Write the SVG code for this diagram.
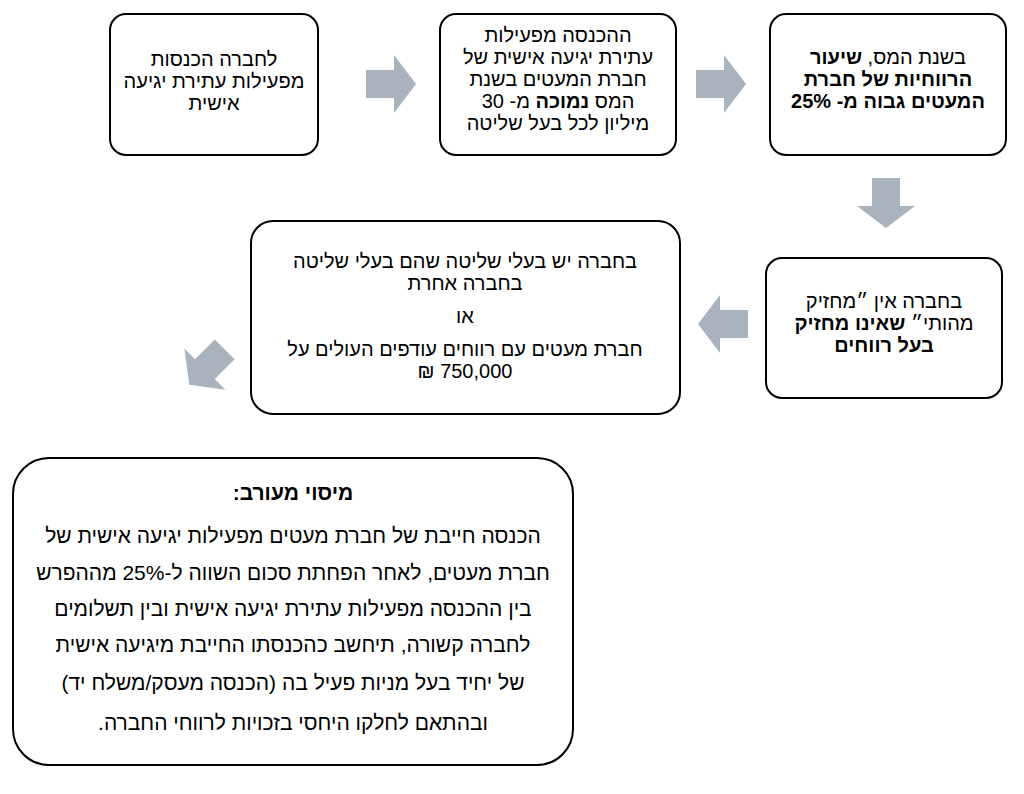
<svg xmlns="http://www.w3.org/2000/svg" width="1024" height="794" viewBox="0 0 1024 794">
<style>
.box{fill:#fff;stroke:#000;stroke-width:2}
text{font-family:"Liberation Sans","DejaVu Sans",sans-serif;font-size:20px;fill:#000;text-anchor:middle;direction:rtl}
.b{font-weight:bold}
.big{font-size:21px}
.arr{fill:#A9B3BD}
</style>
<defs><path id="ar" d="M-25,-14 H3 V-29 L25,0 L3,29 V14 H-25 Z"/></defs>
<rect width="1024" height="794" fill="#fff"/>
<g id="connectors">
<use href="#ar" class="arr" transform="translate(391,84)"/>
<use href="#ar" class="arr" transform="translate(721,84)"/>
<use href="#ar" class="arr" transform="translate(886,203) rotate(90)"/>
<use href="#ar" class="arr" transform="translate(723,324) rotate(180)"/>
<use href="#ar" class="arr" transform="translate(207,367) rotate(135)"/>
</g>
<g id="n1"><rect class="box" x="110" y="14" width="208" height="141" rx="16"/>
<text x="214" y="66">לחברה הכנסות</text><text x="214" y="88">מפעילות עתירת יגיעה</text><text x="214" y="110">אישית</text></g>
<g id="n2"><rect class="box" x="440" y="14" width="236" height="141" rx="16"/>
<text x="558" y="42">ההכנסה מפעילות</text><text x="558" y="64">עתירת יגיעה אישית של</text><text x="558" y="86">חברת המעטים בשנת</text><text x="558" y="108">המס <tspan class="b">נמוכה</tspan> מ- 30</text><text x="558" y="130">מיליון לכל בעל שליטה</text></g>
<g id="n3"><rect class="box" x="770" y="14" width="236" height="141" rx="16"/>
<text x="888" y="64">בשנת המס, <tspan class="b">שיעור</tspan></text><text x="888" y="86" class="b">הרווחיות של חברת</text><text x="888" y="108" class="b">המעטים גבוה מ- 25%</text></g>
<g id="n4"><rect class="box" x="766" y="258" width="236" height="140" rx="16"/>
<text x="884" y="308">בחברה אין ״מחזיק</text><text x="884" y="330">מהותי״ <tspan class="b">שאינו מחזיק</tspan></text><text x="884" y="352" class="b">בעל רווחים</text></g>
<g id="n5"><rect class="box" x="251" y="221" width="429" height="193" rx="22"/>
<text x="465" y="268">בחברה יש בעלי שליטה שהם בעלי שליטה</text><text x="465" y="290">בחברה אחרת</text><text x="465" y="323">או</text><text x="465" y="356">חברת מעטים עם רווחים עודפים העולים על</text><text x="465" y="378">750,000 ₪</text></g>
<g id="n6"><rect class="box" x="13" y="458" width="560" height="307" rx="36"/>
<text x="293" y="500" class="b big">מיסוי מעורב:</text>
<text x="293" y="543" class="big">הכנסה חייבת של חברת מעטים מפעילות יגיעה אישית של</text>
<text x="293" y="580" class="big">חברת מעטים, לאחר הפחתת סכום השווה ל-25% מההפרש</text>
<text x="293" y="616" class="big">בין ההכנסה מפעילות עתירת יגיעה אישית ובין תשלומים</text>
<text x="293" y="652" class="big">לחברה קשורה, תיחשב כהכנסתו החייבת מיגיעה אישית</text>
<text x="293" y="690" class="big">של יחיד בעל מניות פעיל בה (הכנסה מעסק/משלח יד)</text>
<text x="293" y="730" class="big">ובהתאם לחלקו היחסי בזכויות לרווחי החברה.</text></g>
</svg>
